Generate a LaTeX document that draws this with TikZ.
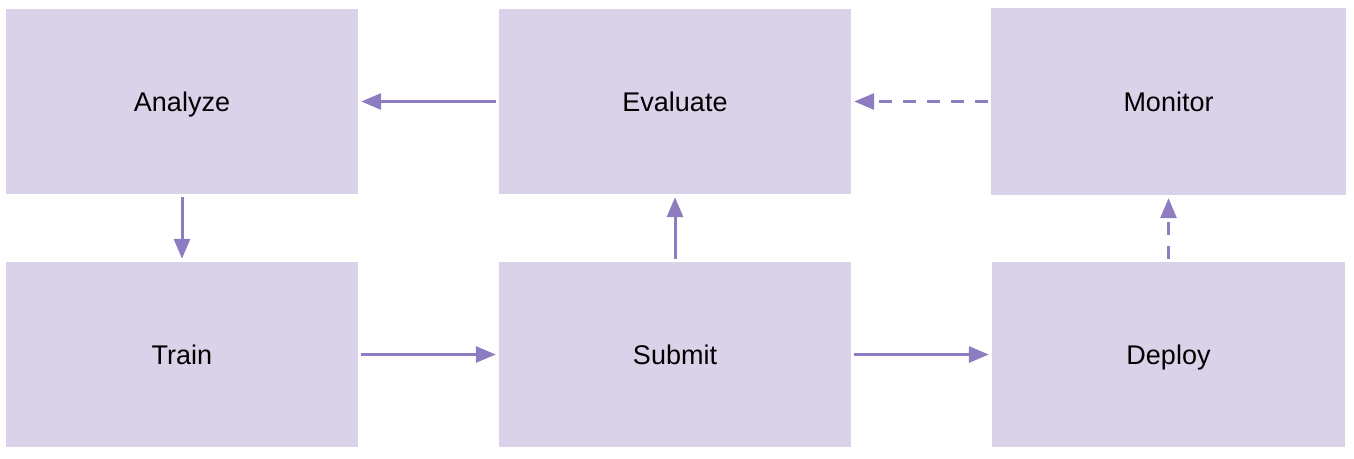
\documentclass[tikz,border=0pt]{standalone}
\usepackage{fontspec}
\setmainfont{Liberation Sans}
\usetikzlibrary{arrows.meta}
\definecolor{boxfill}{HTML}{D9D2E9}
\definecolor{arrowcol}{HTML}{8E7CC3}
\begin{document}
\begin{tikzpicture}[x=1pt,y=1pt,
  stagebox/.style={fill=boxfill, draw=none, minimum width=352pt, minimum height=185pt, inner sep=0pt, text height=19.3pt, text depth=0pt, font=\fontsize{27}{30}\selectfont, text=black},
  flow/.style={draw=arrowcol, line width=3pt, -{Triangle[length=20pt,width=16pt]}, shorten <=3pt, shorten >=3pt},
  dashflow/.style={flow, dash pattern=on 13pt off 11pt}]
\useasboundingbox (0,0) rectangle (1354,-458);
\node[stagebox] (analyze) at (182,-101.5) {Analyze};
\node[stagebox] (evaluate) at (675,-101.5) {Evaluate};
\node[stagebox, minimum width=355pt, minimum height=187pt] (monitor) at (1168.5,-101.5) {Monitor};
\node[stagebox] (train) at (182,-354.5) {Train};
\node[stagebox] (submit) at (675,-354.5) {Submit};
\node[stagebox, minimum width=353pt] (deploy) at (1168.5,-354.5) {Deploy};
\draw[flow] (evaluate) -- (analyze);
\draw[dashflow] (monitor) -- (evaluate);
\draw[flow] (analyze) -- (train);
\draw[flow] (train) -- (submit);
\draw[flow] (submit) -- (evaluate);
\draw[flow] (submit) -- (deploy);
\draw[dashflow] (deploy.north) -- (monitor.south);
\end{tikzpicture}
\end{document}
